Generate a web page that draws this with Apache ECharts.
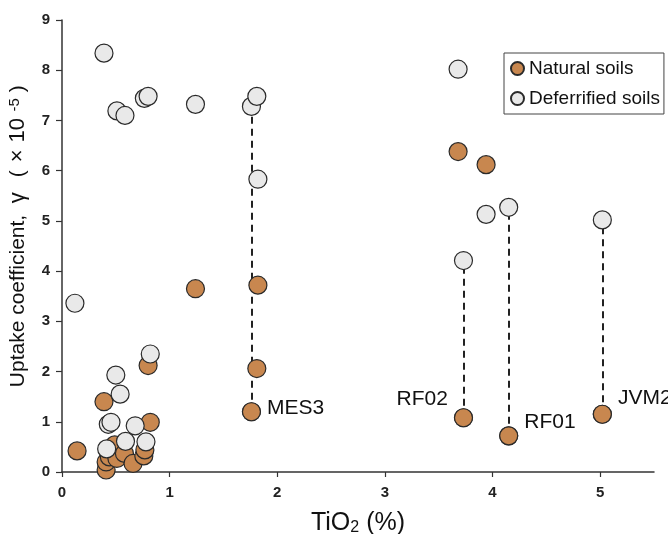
<!DOCTYPE html>
<html>
<head>
<meta charset="utf-8">
<script src="https://cdn.jsdelivr.net/npm/echarts@6/dist/echarts.min.js"></script>
<style>
html,body{margin:0;padding:0;background:#fff;}
#chart{width:668px;height:534px;}
</style>
</head>
<body>
<div id="chart"></div>
<script>
// ---- Data ----
const xTicks = [0, 1, 2, 3, 4, 5];
const yTicks = [0, 1, 2, 3, 4, 5, 6, 7, 8, 9];

const naturalX = [0.14, 0.39, 0.41, 0.41, 0.44, 0.49, 0.51, 0.58, 0.66, 0.76, 0.77, 0.80, 0.82, 1.24, 1.82, 1.81, 1.76, 3.68, 3.94, 3.73, 4.15, 5.02];
const naturalY = [0.42, 1.40, 0.04, 0.20, 0.30, 0.54, 0.27, 0.37, 0.17, 0.32, 0.44, 2.12, 0.99, 3.65, 3.72, 2.06, 1.20, 6.38, 6.12, 1.08, 0.72, 1.15];

const deferX = [0.12, 0.39, 0.51, 0.585, 0.765, 0.80, 1.24, 1.76, 1.81, 1.82, 0.82, 0.50, 0.54, 0.43, 0.455, 0.68, 0.59, 0.78, 0.415, 3.68, 3.94, 4.15, 5.02, 3.73];
const deferY = [3.36, 8.34, 7.19, 7.10, 7.44, 7.48, 7.32, 7.28, 7.48, 5.83, 2.35, 1.93, 1.55, 0.95, 0.99, 0.92, 0.61, 0.60, 0.46, 8.02, 5.13, 5.27, 5.02, 4.21];

// paired samples joined by dashed lines
const pairNames = ['MES3', 'RF02', 'RF01', 'JVM2'];
const pairX = [1.76, 3.73, 4.15, 5.02];
const pairNatY = [1.20, 1.08, 0.72, 1.15];
const pairDefY = [7.28, 4.21, 5.27, 5.02];

// ---- Styling ----
const FONT = "'Liberation Sans', Arial, sans-serif";
const labelPlacement = {
  MES3: { position: 'right', offset: [0, -4] },
  RF02: { position: 'left', offset: [0, -19] },
  RF01: { position: 'right', offset: [0, -14] },
  JVM2: { position: 'right', offset: [0, -16] }
};

const naturalData = naturalX.map((x, i) => [x, naturalY[i]]);
const deferData = deferX.map((x, i) => [x, deferY[i]]);
const pairLabelData = pairNames.map((n, i) => ({
  value: [pairX[i], pairNatY[i]],
  name: n,
  label: Object.assign({ show: true, formatter: n }, labelPlacement[n])
}));
const pairLines = pairX.map((x, i) => ({ coords: [[x, pairNatY[i]], [x, pairDefY[i]]] }));

const titleColor = '#111';
const chart = echarts.init(document.getElementById('chart'), null, { renderer: 'canvas' });
chart.setOption({
  animation: false,
  backgroundColor: '#ffffff',
  textStyle: { fontFamily: FONT },
  grid: { left: 62, right: 14, top: 20, bottom: 62, containLabel: false, outerBoundsMode: 'none' },
  legend: {
    orient: 'vertical',
    left: 504,
    top: 53,
    padding: [6, 4, 6, 6],
    itemGap: 11,
    itemWidth: 13,
    itemHeight: 13,
    backgroundColor: '#fff',
    borderColor: '#444',
    borderWidth: 1,
    borderRadius: 0,
    icon: 'circle',
    textStyle: { fontFamily: FONT, fontSize: 19, color: '#111' },
    data: ['Natural soils', 'Deferrified soils']
  },
  xAxis: {
    type: 'value',
    min: 0, max: 5.5, interval: 1,
    name: '{a|TiO}{s|2}{a| (%)}',
    nameLocation: 'middle',
    nameGap: 39,
    nameTextStyle: {
      rich: {
        a: { fontFamily: FONT, fontSize: 25, color: titleColor },
        s: { fontFamily: FONT, fontSize: 16, color: titleColor, verticalAlign: 'bottom' }
      }
    },
    axisLine: { show: true, onZero: false, lineStyle: { color: '#333', width: 1.5 } },
    axisTick: { show: true, inside: false, length: 5, customValues: xTicks, lineStyle: { color: '#333', width: 1.2 } },
    axisLabel: { customValues: xTicks, margin: 13, fontFamily: FONT, fontSize: 15, fontWeight: 'bold', color: '#222' },
    splitLine: { show: false }
  },
  yAxis: {
    type: 'value',
    min: 0, max: 9, interval: 1,
    name: '{a|Uptake coefficient,}{g|γ}{p|(}{x|×}{n|10}{s|-5}{q|)}',
    nameLocation: 'middle',
    nameGap: 33,
    nameTextStyle: {
      padding: [0, 0, 0, 21],
      rich: {
        a: { fontFamily: FONT, fontSize: 21, color: titleColor },
        g: { fontFamily: FONT, fontSize: 22, color: titleColor, width: 34, align: 'center' },
        p: { fontFamily: FONT, fontSize: 21, color: titleColor, width: 14, align: 'right' },
        x: { fontFamily: FONT, fontSize: 22, color: titleColor, width: 22, align: 'center' },
        n: { fontFamily: FONT, fontSize: 22, color: titleColor, width: 29, align: 'left' },
        s: { fontFamily: FONT, fontSize: 15, color: titleColor, width: 22, align: 'left', verticalAlign: 'top' },
        q: { fontFamily: FONT, fontSize: 21, color: titleColor, width: 10, align: 'left' }
      }
    },
    axisLine: { show: true, onZero: false, lineStyle: { color: '#333', width: 1.5 } },
    axisTick: { show: true, inside: false, length: 6, customValues: yTicks, lineStyle: { color: '#333', width: 1.2 } },
    axisLabel: { customValues: yTicks, margin: 12, fontFamily: FONT, fontSize: 15, fontWeight: 'bold', color: '#222' },
    splitLine: { show: false }
  },
  series: [
    {
      type: 'lines',
      coordinateSystem: 'cartesian2d',
      silent: true,
      z: 1,
      lineStyle: { color: '#222', width: 2, type: [7, 5], opacity: 1 },
      data: pairLines
    },
    {
      name: 'Natural soils',
      type: 'scatter',
      z: 2,
      symbol: 'circle',
      symbolSize: 18,
      itemStyle: { color: '#C8874F', borderColor: '#2a2a2a', borderWidth: 1.2, opacity: 1 },
      data: naturalData
    },
    {
      name: 'Natural soils',
      type: 'scatter',
      z: 2,
      symbol: 'circle',
      symbolSize: 18,
      itemStyle: { color: '#C8874F', borderColor: '#2a2a2a', borderWidth: 1.2, opacity: 1 },
      label: { fontFamily: FONT, fontSize: 21, color: '#111', distance: 6 },
      data: pairLabelData
    },
    {
      name: 'Deferrified soils',
      type: 'scatter',
      z: 3,
      symbol: 'circle',
      symbolSize: 18,
      itemStyle: { color: '#E9E9E9', borderColor: '#2a2a2a', borderWidth: 1.2, opacity: 1 },
      data: deferData
    }
  ]
});
</script>
</body>
</html>
